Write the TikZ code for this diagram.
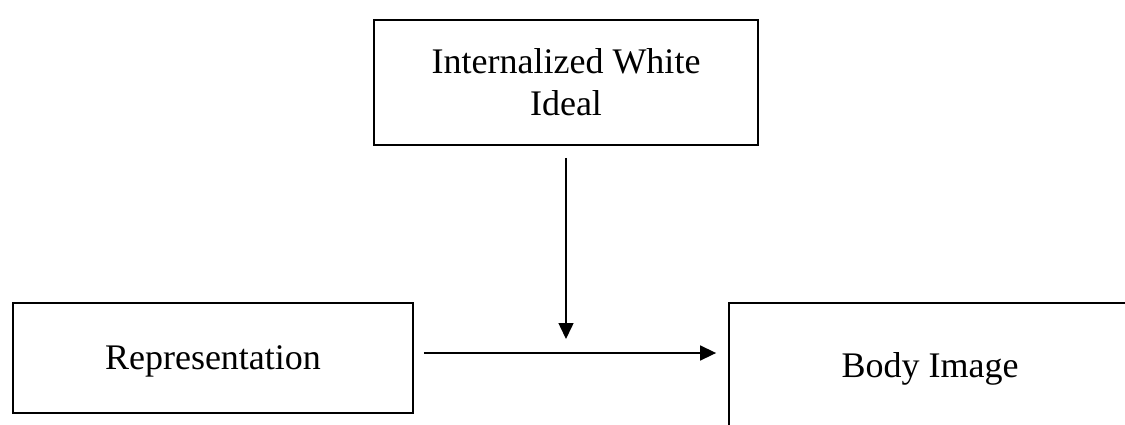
\documentclass[tikz,border=0pt]{standalone}
\usepackage{fontspec}
\setmainfont{Liberation Serif}
\usetikzlibrary{arrows.meta}
\begin{document}
\begin{tikzpicture}[x=1pt,y=-1pt,
  box/.style={draw=black, line width=1.8pt, inner sep=0pt, text depth=0pt, align=center,
    font=\fontsize{36}{42}\selectfont},
  link/.style={line width=1.5pt, -{Triangle[length=16pt,width=15pt]}}]
\path[use as bounding box, clip] (0,0) rectangle (1125,424);
\node[box, minimum width=384pt, minimum height=125pt] (ideal) at (566,82.5) {Internalized White\\Ideal};
\node[box, minimum width=400pt, minimum height=110pt] (rep) at (213,358) {Representation};
\node[box, minimum width=402pt, minimum height=124pt] (body) at (930,365) {Body Image};
\coordinate (mid) at (566,339);
\draw[link] ([yshift=-12pt]ideal.south) -- (mid);
\draw[link] ([xshift=10pt]rep.east |- 0,353) -- ([xshift=-12pt]body.west |- 0,353);
\end{tikzpicture}
\end{document}
